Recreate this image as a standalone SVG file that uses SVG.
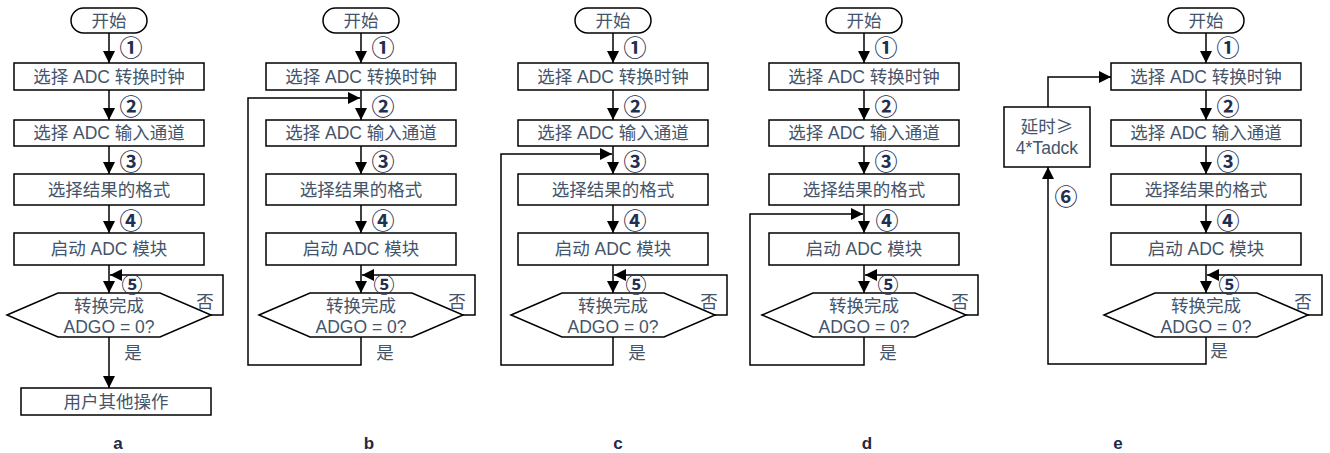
<svg xmlns="http://www.w3.org/2000/svg" width="1330" height="453" viewBox="0 0 1330 453">
<style>
.bg{fill:#ffffff}
.shape{fill:#ffffff;stroke:#000000;stroke-width:1.5}
.ln{fill:none;stroke:#000000;stroke-width:1.5;marker-end:url(#ah)}
.t{font-family:"Liberation Sans","Noto Sans CJK SC",sans-serif;font-size:17.5px;fill:#44546a;text-anchor:middle;dominant-baseline:central}
.cjk{font-family:"Noto Sans CJK SC",sans-serif}
.n{font-family:"Noto Sans CJK SC","Liberation Sans",sans-serif;font-size:23px;font-weight:bold;fill:#1f3050;text-anchor:middle;dominant-baseline:central}
.n5{font-size:21px}
.lab{font-family:"Liberation Sans",Arial,sans-serif;font-size:17px;font-weight:bold;fill:#1f2a44;text-anchor:middle;dominant-baseline:central}
</style>
<defs>
<marker id="ah" viewBox="0 0 12 12" refX="12" refY="6" markerWidth="12" markerHeight="12" markerUnits="userSpaceOnUse" orient="auto">
<path d="M0,0 L12,6 L0,12 z" fill="#000000"/>
</marker>
</defs>
<rect class="bg" x="0" y="0" width="1330" height="453"/>

<!-- ===== connectors ===== -->
<g id="connectors">
<!-- a -->
<path class="ln" d="M109,33 V63"/>
<path class="ln" d="M109,90 V120"/>
<path class="ln" d="M109,146 V174"/>
<path class="ln" d="M109,205 V233"/>
<path class="ln" d="M109,265 V293"/>
<path class="ln" d="M211,315 H223 V275 H110"/>
<path class="ln" d="M109,337 V388"/>
<!-- b -->
<path class="ln" d="M361,33 V63"/>
<path class="ln" d="M361,90 V120"/>
<path class="ln" d="M361,146 V174"/>
<path class="ln" d="M361,205 V233"/>
<path class="ln" d="M361,265 V293"/>
<path class="ln" d="M463,315 H475 V275 H362"/>
<path class="ln" d="M361,337 V365 H248 V98 H360"/>
<!-- c -->
<path class="ln" d="M613,33 V63"/>
<path class="ln" d="M613,90 V120"/>
<path class="ln" d="M613,146 V174"/>
<path class="ln" d="M613,205 V233"/>
<path class="ln" d="M613,265 V293"/>
<path class="ln" d="M715,315 H727 V275 H614"/>
<path class="ln" d="M613,337 V365 H501 V154 H612"/>
<!-- d -->
<path class="ln" d="M864,33 V63"/>
<path class="ln" d="M864,90 V120"/>
<path class="ln" d="M864,146 V174"/>
<path class="ln" d="M864,205 V233"/>
<path class="ln" d="M864,265 V293"/>
<path class="ln" d="M966,315 H978 V275 H865"/>
<path class="ln" d="M864,337 V365 H750 V214 H863"/>
<!-- e -->
<path class="ln" d="M1206,33 V63"/>
<path class="ln" d="M1206,90 V120"/>
<path class="ln" d="M1206,146 V174"/>
<path class="ln" d="M1206,205 V233"/>
<path class="ln" d="M1206,265 V293"/>
<path class="ln" d="M1308,315 H1322 V275 H1207"/>
<path class="ln" d="M1206,337 V364 H1048 V167"/>
<path class="ln" d="M1048,107 V77 H1111"/>
</g>

<!-- ===== panel a ===== -->
<g id="a-start"><rect class="shape" x="71" y="8" width="76" height="25" rx="12.5"/><text class="t" x="109" y="20.5">开始</text></g>
<g id="a-box1"><rect class="shape" x="14" y="63" width="190" height="27"/><text class="t" x="109" y="76.5">选择 ADC 转换时钟</text></g>
<g id="a-box2"><rect class="shape" x="14" y="120" width="190" height="26"/><text class="t" x="109" y="133">选择 ADC 输入通道</text></g>
<g id="a-box3"><rect class="shape" x="14" y="174" width="190" height="31"/><text class="t" x="109" y="189.5">选择结果的格式</text></g>
<g id="a-box4"><rect class="shape" x="14" y="233" width="190" height="32"/><text class="t" x="109" y="249">启动 ADC 模块</text></g>
<g id="a-dec"><polygon class="shape" points="7,315 58,293 160,293 211,315 160,337 58,337"/><text class="t" x="109" y="306">转换完成</text><text class="t" x="109" y="327">ADGO = 0?</text></g>
<g id="a-box5"><rect class="shape" x="21" y="388" width="190" height="27"/><text class="t" x="116" y="401.5">用户其他操作</text></g>
<g id="a-labels">
<text class="n" x="131" y="46">①</text><text class="n" x="131" y="105">②</text><text class="n" x="131" y="160">③</text><text class="n" x="131" y="219">④</text><text class="n n5" x="132" y="283">⑤</text>
<text class="t" x="205" y="302">否</text><text class="t" x="133" y="353">是</text>
<text class="lab" x="118" y="443">a</text>
</g>

<!-- ===== panel b ===== -->
<g id="b-start"><rect class="shape" x="323" y="8" width="76" height="25" rx="12.5"/><text class="t" x="361" y="20.5">开始</text></g>
<g id="b-box1"><rect class="shape" x="266" y="63" width="190" height="27"/><text class="t" x="361" y="76.5">选择 ADC 转换时钟</text></g>
<g id="b-box2"><rect class="shape" x="266" y="120" width="190" height="26"/><text class="t" x="361" y="133">选择 ADC 输入通道</text></g>
<g id="b-box3"><rect class="shape" x="266" y="174" width="190" height="31"/><text class="t" x="361" y="189.5">选择结果的格式</text></g>
<g id="b-box4"><rect class="shape" x="266" y="233" width="190" height="32"/><text class="t" x="361" y="249">启动 ADC 模块</text></g>
<g id="b-dec"><polygon class="shape" points="259,315 310,293 412,293 463,315 412,337 310,337"/><text class="t" x="361" y="306">转换完成</text><text class="t" x="361" y="327">ADGO = 0?</text></g>
<g id="b-labels">
<text class="n" x="383" y="46">①</text><text class="n" x="383" y="105">②</text><text class="n" x="383" y="160">③</text><text class="n" x="383" y="219">④</text><text class="n n5" x="384" y="283">⑤</text>
<text class="t" x="457" y="302">否</text><text class="t" x="385" y="353">是</text>
<text class="lab" x="369" y="443">b</text>
</g>

<!-- ===== panel c ===== -->
<g id="c-start"><rect class="shape" x="575" y="8" width="76" height="25" rx="12.5"/><text class="t" x="613" y="20.5">开始</text></g>
<g id="c-box1"><rect class="shape" x="518" y="63" width="190" height="27"/><text class="t" x="613" y="76.5">选择 ADC 转换时钟</text></g>
<g id="c-box2"><rect class="shape" x="518" y="120" width="190" height="26"/><text class="t" x="613" y="133">选择 ADC 输入通道</text></g>
<g id="c-box3"><rect class="shape" x="518" y="174" width="190" height="31"/><text class="t" x="613" y="189.5">选择结果的格式</text></g>
<g id="c-box4"><rect class="shape" x="518" y="233" width="190" height="32"/><text class="t" x="613" y="249">启动 ADC 模块</text></g>
<g id="c-dec"><polygon class="shape" points="511,315 562,293 664,293 715,315 664,337 562,337"/><text class="t" x="613" y="306">转换完成</text><text class="t" x="613" y="327">ADGO = 0?</text></g>
<g id="c-labels">
<text class="n" x="635" y="46">①</text><text class="n" x="635" y="105">②</text><text class="n" x="635" y="160">③</text><text class="n" x="635" y="219">④</text><text class="n n5" x="636" y="283">⑤</text>
<text class="t" x="709" y="302">否</text><text class="t" x="637" y="353">是</text>
<text class="lab" x="618" y="443">c</text>
</g>

<!-- ===== panel d ===== -->
<g id="d-start"><rect class="shape" x="826" y="8" width="76" height="25" rx="12.5"/><text class="t" x="864" y="20.5">开始</text></g>
<g id="d-box1"><rect class="shape" x="769" y="63" width="190" height="27"/><text class="t" x="864" y="76.5">选择 ADC 转换时钟</text></g>
<g id="d-box2"><rect class="shape" x="769" y="120" width="190" height="26"/><text class="t" x="864" y="133">选择 ADC 输入通道</text></g>
<g id="d-box3"><rect class="shape" x="769" y="174" width="190" height="31"/><text class="t" x="864" y="189.5">选择结果的格式</text></g>
<g id="d-box4"><rect class="shape" x="769" y="233" width="190" height="32"/><text class="t" x="864" y="249">启动 ADC 模块</text></g>
<g id="d-dec"><polygon class="shape" points="762,315 813,293 915,293 966,315 915,337 813,337"/><text class="t" x="864" y="306">转换完成</text><text class="t" x="864" y="327">ADGO = 0?</text></g>
<g id="d-labels">
<text class="n" x="886" y="46">①</text><text class="n" x="886" y="105">②</text><text class="n" x="886" y="160">③</text><text class="n" x="887" y="219">④</text><text class="n n5" x="888" y="283">⑤</text>
<text class="t" x="960" y="302">否</text><text class="t" x="888" y="353">是</text>
<text class="lab" x="867" y="443">d</text>
</g>

<!-- ===== panel e ===== -->
<g id="e-start"><rect class="shape" x="1168" y="8" width="76" height="25" rx="12.5"/><text class="t" x="1206" y="20.5">开始</text></g>
<g id="e-box1"><rect class="shape" x="1111" y="63" width="190" height="27"/><text class="t" x="1206" y="76.5">选择 ADC 转换时钟</text></g>
<g id="e-box2"><rect class="shape" x="1111" y="120" width="190" height="26"/><text class="t" x="1206" y="133">选择 ADC 输入通道</text></g>
<g id="e-box3"><rect class="shape" x="1111" y="174" width="190" height="31"/><text class="t" x="1206" y="189.5">选择结果的格式</text></g>
<g id="e-box4"><rect class="shape" x="1111" y="233" width="190" height="32"/><text class="t" x="1206" y="249">启动 ADC 模块</text></g>
<g id="e-dec"><polygon class="shape" points="1104,315 1155,293 1257,293 1308,315 1257,337 1155,337"/><text class="t" x="1206" y="306">转换完成</text><text class="t" x="1206" y="327">ADGO = 0?</text></g>
<g id="e-delay"><rect class="shape" x="1004" y="107" width="86" height="60"/><text class="t cjk" x="1047" y="125">延时≥</text><text class="t" x="1047" y="148">4*Tadck</text></g>
<g id="e-labels">
<text class="n" x="1228" y="46">①</text><text class="n" x="1228" y="105">②</text><text class="n" x="1228" y="160">③</text><text class="n" x="1228" y="219">④</text><text class="n n5" x="1229" y="283">⑤</text>
<text class="n" x="1066" y="195">⑥</text>
<text class="t" x="1303" y="302">否</text><text class="t" x="1219" y="351">是</text>
<text class="lab" x="1118" y="443">e</text>
</g>
</svg>
